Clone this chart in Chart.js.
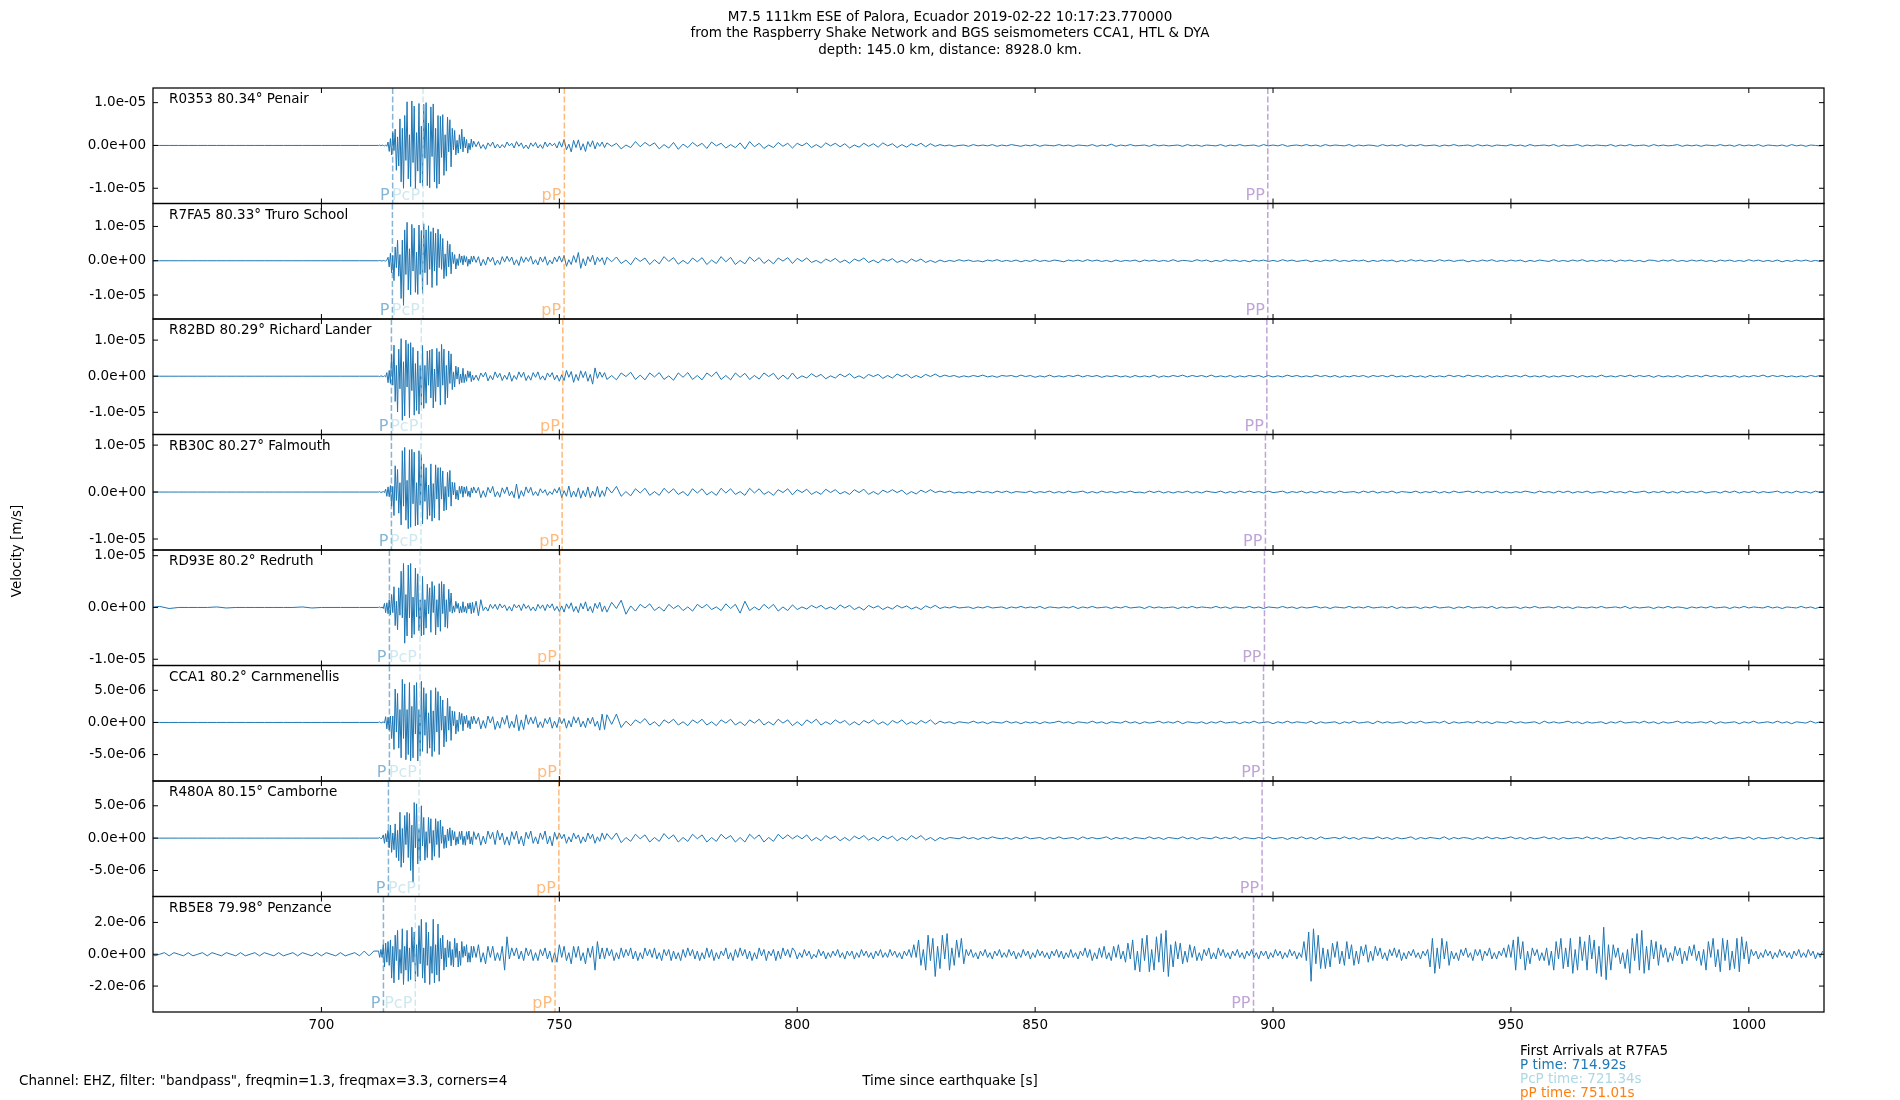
<!DOCTYPE html>
<html>
<head>
<meta charset="utf-8">
<script src="https://cdn.jsdelivr.net/npm/chart.js@4.4.1/dist/chart.umd.min.js"></script>
<style>
  html, body { margin: 0; padding: 0; background: #fff; }
  canvas { display: block; }
</style>
</head>
<body>
<canvas id="seis" width="1900" height="1100"></canvas>
<script>
// station labels, top to bottom
var stations = ['R0353 80.34° Penair', 'R7FA5 80.33° Truro School', 'R82BD 80.29° Richard Lander',
  'RB30C 80.27° Falmouth', 'RD93E 80.2° Redruth', 'CCA1 80.2° Carnmenellis',
  'R480A 80.15° Camborne', 'RB5E8 79.98° Penzance'];

// sample grids: [start time s, step s, count]
var gridMain = [[664, 2, 24], [712, 0.25, 80], [732, 0.5, 56], [760, 1, 257]];
var gridPenzance = [[664, 1, 48], [712, 0.25, 80], [732, 0.5, 568]];

// velocity traces in units of 1e-7 m/s
var R0353 = [0,0,0,0,0,0,0,0,0,0,0,0,0,0,0,0,0,0,0,0,0,0,0,0,
  0,1,-1,1,0,-1,1,-2,8,-14,16,-22,30,-12,38,-58,20,-48,62,-85,40,-100,70,-35,102,-78,25,
  -96,104,-40,92,-101,30,-60,98,-88,45,-95,96,-30,100,-94,52,-99,90,-26,97,-85,40,-100,70,-90,
  68,-28,72,-70,25,-60,66,-15,60,-50,40,-10,35,-22,12,-18,25,-8,38,-15,20,-6,14,-18,5,-10,15,-4,
  10,-3,9,-7,2,-9,6,-2,8,-6,3,-6,2,-5,8,-1,5,-6,9,-2,6,-7,1,-8,6,-2,7,-6,2,-7,8,-3,6,-1,5,-6,
  9,-4,14,-10,3,-15,12,-5,13,-11,4,-14,9,-3,11,-8,7,-2,8,-5,
  6,-2,5,-8,1,-5,9,-3,7,-1, 6,-8,2,-6,7,-9,3,-5,7,-2, 5,-7,8,-1,5,-6,2,-5,6,-8, 9,-3,5,-7,1,-5,7,-2,5,-6,
  5,-1,6,-5,2,-5,6,-1,5,-3, 4,-6,1,-4,5,-2,4,-4,6,-1, 4,-5,2,-4,4,-1,5,-3,4,-2,
  2,-1,1,-2,0,1,-2,2,-1,1, -1,2,-2,1,-1,2,0,-2,1,-1, 2,-2,1,0,-1,2,-1,1,-2,1, 0,-1,2,-2,1,-1,3,-2,1,-1,
  2,-1,0,1,-2,2,-1,1,-1,0, 1,-2,2,-1,1,-2,1,0,-1,2, -2,1,-1,2,-1,0,1,-2,2,-1, 1,-1,2,-2,0,1,-1,2,-1,1,
  -2,2,-1,1,0,-1,2,-2,1,-1, 1,0,-2,2,-1,1,-1,2,-2,1, -1,2,-1,0,1,-2,1,-1,2,-1, 0,1,-2,2,-1,1,-2,1,0,-1,
  2,-1,1,-2,2,-1,0,1,-1,2, -2,1,-1,0,2,-2,1,-1,1,0, -1,2,-2,1,-1,2,-1,0,1,-2, 2,-1,1,-1,0,2,-2,1,-1,1,
  -2,1,0,-1,2,-1,1,-2,2,-1, 1,-1,2,-2,1,0,-1,1,-2,2, -1,1,-2,1,0,-1,1];
var R7FA5 = [0,0,0,0,0,0,0,0,0,0,0,0,0,0,0,0,0,0,0,0,0,0,0,0,
  0,1,0,-1,1,0,-1,2,10,-18,22,-35,15,-58,40,-20,60,-45,18,-110,60,-130,90,-40,112,-85,35,
  -99,106,-30,95,-92,25,-98,104,-40,88,-95,108,-35,90,-70,102,-25,85,-78,96,-30,80,-72,92,-20,
  77,-25,65,-52,20,-45,58,-18,48,-38,25,-8,18,-24,6,-14,20,-5,14,-12,15,-4,12,-16,5,-10,13,-3,
  14,-5,12,-15,4,-13,11,-3,10,-13,2,-11,12,-4,13,-2,11,-12,3,-14,12,-5,10,-2,13,-10,3,-12,11,-4,12,-13,2,-9,11,-3,
  14,-4,15,-16,3,-11,15,-5,24,-22,6,-15,12,-3,16,-12,10,-2,9,-12,
  10,-3,11,-8,2,-12,9,-2,8,-11, 3,-9,12,-2,9,-10,1,-9,8,-3, 9,-11,2,-8,12,-3,10,-11,1,-9, 11,-2,9,-8,3,-9,8,-1,9,-8,
  7,-2,8,-5,1,-7,5,-2,7,-5, 2,-7,5,-1,8,-5,2,-6,5,-1, 6,-5,1,-6,5,-2,5,-5,1,-5,
  2,-3,1,-2,3,-1,2,-2,0,-3, 2,-1,3,-2,1,-2,2,-3,1,-2, 3,-2,1,-2,2,0,-3,2,-1,2, -2,3,-1,2,-2,1,-3,2,-2,1,
  -1,2,-3,2,-1,2,-2,1,-2,3, -2,1,0,-2,3,-1,2,-3,1,-2, 3,-1,2,-2,1,-3,2,-1,2,-2, 1,-2,3,-1,2,-2,0,2,-3,1,
  -2,2,-1,3,-2,1,-2,2,-1,2, -3,1,-2,2,-1,2,-3,1,-2,3, -1,2,-2,1,-2,3,-1,2,-2,1, 2,-3,1,-2,2,-1,3,-2,1,-2,
  2,-1,2,-3,1,-2,2,0,-2,3, -2,1,-2,2,-1,3,-2,1,-2,2, -1,2,-3,2,-1,2,-2,1,-3,2, 1,-2,2,-1,3,-2,1,-2,2,-1,
  2,-2,1,-3,2,-1,2,-2,1,-2, 3,-1,2,-2,1,-2,2,-3,1,-2, 2,-1,2,-2,1,-2,1];
var R82BD = [0,0,0,0,0,0,0,0,0,0,0,0,0,0,0,0,0,0,0,0,0,0,0,0,
  0,-1,1,0,-1,1,-2,10,-18,16,-20,60,-25,86,-70,30,-99,75,-35,104,-122,40,-110,100,-30,90,-115,
  93,-40,80,-108,35,-95,70,-105,30,-80,85,-89,30,-75,70,-25,72,-60,75,-88,20,-70,77,-30,68,
  -80,88,-25,75,-78,30,-60,70,-20,62,-37,12,-30,28,-8,25,-22,6,-18,22,-18,5,-14,15,-4,13,-15,3,
  -11,3,-12,9,-2,11,-13,2,-10,12,-4,8,-12,3,-9,11,-14,2,-9,12,-3,11,-12,2,-11,10,-3,12,-9,1,-11,9,-2,10,-10,3,
  -14,4,-12,16,-3,13,-17,5,-12,15,-4,13,-14,5,-22,23,-6,12,-3,10,
  -9,2,-10,9,-1,11,-9,3,-10,9, -2,10,-9,1,-11,9,-3,10,-9,2, -10,9,-1,12,-9,2,-10,9,-3,8, -9,2,-8,9,-1,8,-9,3,-8,9,
  -7,1,-5,7,-2,5,-7,1,-5,6, -2,7,-5,1,-6,5,-1,5,-6,2, -5,6,-1,5,-5,2,-4,5,-1,6,
  -2,3,-1,2,-3,1,-2,2,-1,3, -2,1,-3,2,0,2,-2,3,-1,2, -3,1,-2,3,-2,1,-2,2,-1,3, -2,2,-1,2,-3,1,-1,2,-2,1,
  -3,2,-2,1,-2,3,-3,1,-2,2, -1,3,-2,2,-1,2,-2,3,-2,1, -2,2,-3,1,-2,2,-1,2,-3,2, -2,1,-2,3,-1,2,-2,1,-2,3,
  -1,2,-2,2,-3,1,-2,2,-1,2, -3,2,-1,2,-2,3,-2,1,-2,2, -2,1,-3,2,-2,1,-2,3,-1,2, -2,3,-1,2,-2,2,-3,1,-2,2,
  -1,2,-2,3,-2,1,-2,2,-3,1, -2,2,-1,2,-3,2,-2,1,-2,3, -2,1,-2,2,-1,3,-2,2,-1,2, -3,2,-2,1,-2,2,-3,2,-1,2,
  -2,3,-1,2,-2,1,-2,2,-3,1, -2,2,-1,3,-2,2,-1,2,-2,1, -2,1,-2,2,-1,2,-1];
var RB30C = [0,0,0,0,0,0,0,0,0,0,0,0,0,0,0,0,0,0,0,0,0,0,0,0,
  0,1,-1,0,1,-1,6,-9,11,-10,14,-30,12,-50,56,-18,48,-45,20,-70,88,-30,95,-60,25,-78,90,
  -75,91,-25,85,-72,20,-70,88,-28,80,-68,60,-20,52,-58,15,-50,60,-62,18,-55,58,-15,52,-60,
  52,-15,45,-40,12,-38,42,-10,46,-30,21,-6,20,-15,4,-17,12,-3,13,-11,11,-3,12,-9,2,-11,9,-2,
  11,-2,10,-12,3,-11,10,-2,12,-10,1,-11,9,-3,11,-8,2,-12,17,-14,3,-9,11,-2,10,
  -7,1,-8,7,-2,5,-7,1,-5,7,-2,
  10,-12,3,-9,13,-11,2,-10,9,-13,3,-10,11,-12,2,-9,12,-11,3,-9,
  11,-2,12,-9,1,-8,7,-2,8,-7, 1,-7,8,-2,7,-5,1,-8,7,-2, 7,-6,1,-7,8,-2,7,-5,1,-7, 8,-2,7,-5,1,-7,5,-1,7,-6,
  5,-1,6,-5,1,-5,6,-1,5,-4, 1,-5,5,-1,6,-5,1,-5,4,-1, 5,-1,4,-5,1,-4,4,-1,5,-1,
  2,-1,2,-2,0,-2,1,-2,2,-1, 1,-2,2,-1,2,-2,1,0,-1,2, -2,1,-1,2,-2,1,-2,2,-1,0, 2,-2,1,-2,2,-1,1,-2,1,-1,
  2,-1,0,-2,2,-1,2,-2,1,-2, 1,-1,2,-2,1,-2,2,0,-1,2, -2,1,-2,2,-1,2,-1,1,-2,2, -1,0,2,-2,1,-1,2,-2,1,-2,
  2,-1,1,-2,2,-1,0,1,-2,2, -1,2,-2,1,-1,2,-2,1,0,-1, 2,-2,1,-1,2,-2,1,-2,2,-1, 0,2,-1,2,-2,1,-1,2,-2,1,
  -2,1,-1,2,0,-2,2,-1,1,-2, 2,-1,2,-2,1,-1,2,-2,0,1, -2,2,-1,1,-2,2,-1,0,2,-2, 1,-1,2,-2,1,-2,2,-1,1,-1,
  2,-2,0,1,-2,2,-1,2,-2,1, -1,2,-2,1,-1,0,2,-2,1,-2, 2,-1,1,-2,2,-1,1];
var RD93E = [0,2,-2,0,0,0,0,1,-1,0,0,0,0,0,0,0,1,-1,0,0,0,0,0,0,
  0,1,-1,1,-2,8,-10,9,-12,15,-14,25,-10,40,-35,12,-43,38,-15,70,-20,85,-69,25,-55,82,-20,
  85,-59,20,-52,76,-18,65,-45,15,-55,60,-53,15,-40,45,-12,38,-48,50,-10,42,-53,15,-38,46,
  -46,50,-12,45,-38,15,-40,35,-8,28,-11,3,-9,12,-2,8,-11,2,-10,11,-9,2,-11,8,-3,9,-12,10,
  -10,12,-16,15,-6,1,-7,6,-2,6,-4,7,-1,5,-6,2,-7,6,-1,5,-6,7,-2,4,-6,1,-7,6,-2,5,-6,6,-1,7,-6,2,
  -8,3,-9,7,-2,9,-8,2,-10,8,-3,11,-7,2,-10,8,-2,10,-8,3,
  -9,10,-2,14,-13,3,-7,6,-1,7, -6,1,-7,6,-2,4,-6,1,-7,6, -1,6,-4,1,-6,7,-2,6,-11,12, -6,1,-5,6,-2,6,-7,1,-6,5,
  -4,1,-3,4,-1,4,-3,1,-4,5, -1,4,-4,1,-5,4,-1,3,-4,1, -3,4,-1,3,-3,1,-4,3,-1,4,
  -2,1,-1,2,-1,0,1,-2,1,-1, 2,-1,0,1,-2,1,-1,2,-1,1, -1,2,-2,1,0,-1,1,-1,2,-2, 1,-1,2,-1,0,1,-2,1,-1,2,
  -1,0,1,-2,2,-1,1,-1,0,1, -2,1,-1,2,-1,1,0,-1,2,-1, 1,-2,1,0,-1,2,-1,1,-2,1, 0,-1,2,-1,1,-2,1,-1,0,2,
  -1,1,-2,1,0,-1,2,-1,1,-1, 2,-1,0,1,-1,2,-2,1,-1,0, 1,-2,1,-1,2,-1,0,1,-2,1, -1,2,-1,0,1,-1,2,-2,1,-1,
  0,1,-2,1,-1,2,-1,0,1,-1, 2,-1,1,-2,1,0,-1,1,-1,2, -1,0,1,-1,2,-2,1,-1,0,1, -2,1,-1,2,-1,1,0,-2,1,-1,
  1,-1,2,-1,0,1,-2,1,-1,2, -1,1,0,-1,2,-1,1,-2,1,0, -1,2,-1,1,-2,1,-1];
var CCA1 = [0,0,0,0,0,0,0,0,0,0,0,0,0,0,0,0,0,0,0,0,0,0,0,0,
  0,1,-1,0,1,-1,9,-10,8,-12,10,-25,10,-42,52,-15,45,-40,20,-55,67,-25,60,-58,20,-50,62,
  -60,25,-55,58,-18,62,-60,20,-52,64,-45,54,-20,45,-48,15,-40,50,-53,18,-45,54,-15,48,-50,
  41,-12,35,-38,10,-30,38,-12,25,-28,18,-5,17,-18,4,-14,16,-3,14,-13,10,-2,11,-8,3,-10,9,-2,
  10,-2,8,-10,3,-9,10,-1,9,-11,2,-9,8,-3,11,-9,2,-8,12,-13,4,-11,12,-3,
  8,-2,9,-8,1,-8,6,-2,8,-9,2,-8,8,-2,6,-9,3,-7,9,-1,8,-7,2,-8,7,-2,8,-6,2,-12,13,-11,
  12,-3,13,-8,2,-5,4,-1,6,-4, 1,-6,4,-1,5,-4,1,-5,4,-1, 5,-4,1,-5,4,-1,5,-4,1,-5, 4,-1,5,-4,1,-4,5,-1,4,-5,
  1,-5,4,-1,5,-4,1,-3,4,-1, 3,-4,1,-4,3,-1,4,-3,1,-4, 3,-1,4,-3,1,-3,3,-1,4,-3,
  2,-1,1,-2,1,0,-1,2,-1,1, -2,1,0,-1,2,-1,1,-2,1,-1, 1,-2,1,-1,0,2,-1,1,-2,1, 0,-1,2,-1,1,-2,1,0,-1,2,
  -1,1,-2,1,-1,0,2,-1,1,-1, 2,-2,1,0,-1,1,-2,1,-1,2, -1,0,1,-2,1,-1,2,-1,0,1, -2,1,-1,2,-1,1,0,-1,2,-2,
  1,-1,0,1,-2,1,-1,2,-1,0, 1,-2,2,-1,1,-1,0,1,-2,1, -1,2,-1,0,1,-1,2,-2,1,-1, 0,1,-1,2,-1,1,-2,1,0,-1,
  2,-1,1,-1,0,1,-2,2,-1,1, -1,0,2,-1,1,-2,1,-1,0,1, -2,1,-1,2,-1,0,1,-1,2,-1, 1,-2,1,-1,0,2,-1,1,-1,0,
  1,-1,2,-2,1,-1,0,1,-2,1, -1,2,-1,0,1,-1,2,-1,1,-2, 1,0,-1,2,-1,1,-1];
var R480A = [0,0,0,0,0,0,0,0,0,0,0,0,0,0,0,0,0,0,0,0,0,0,0,0,
  0,1,-1,0,5,-8,7,-6,12,-15,20,-22,8,-18,22,-30,12,-35,40,-45,15,-38,35,-10,40,-30,38,
  -50,20,-68,55,-15,53,-40,15,-35,50,-12,32,-34,10,-30,32,-8,30,-34,12,-28,30,-10,26,-30,
  28,-8,18,-16,5,-15,14,-4,16,-12,12,-3,10,-11,2,-9,10,-2,11,-10,3,-11,10,-2,11,-9,2,-10,
  10,-2,8,-11,3,-9,11,-1,9,-10,12,-3,8,-10,2,-11,10,-2,11,-9,3,-12,9,-1,11,-8,2,-9,8,-2,11,-9,3,-12,9,-2,
  8,-1,6,-8,2,-6,8,-1,5,-8,2,-6,8,-1,6,-8,2,-5,8,-2,
  7,-2,8,-7,1,-5,6,-1,5,-6, 1,-5,7,-1,5,-6,1,-5,6,-1, 5,-6,1,-5,6,-1,4,-6,1,-6, 6,-1,5,-6,1,-5,6,-1,5,-1,
  4,-1,5,-4,1,-4,4,-1,3,-4, 1,-4,3,-1,4,-3,1,-4,3,-1, 3,-4,1,-3,4,-1,4,-3,1,-4,
  1,-2,1,0,-1,2,-1,1,-2,1, -1,2,0,-1,1,-2,1,-1,2,-1, 0,1,-2,1,-1,2,-1,0,1,-2, 2,-1,1,-1,0,2,-2,1,-1,1,
  -2,1,0,-1,2,-1,1,-2,1,0, -1,2,-1,1,-2,1,0,-1,2,-1, 1,-1,2,-2,1,0,-1,1,-1,2, -1,0,1,-2,1,-1,2,-1,1,-2,
  2,-1,0,1,-1,2,-1,1,-2,1, 0,-1,2,-1,1,-2,1,-1,0,2, -2,1,-1,1,0,-1,2,-2,1,-1, 1,0,-2,1,-1,2,-1,1,-1,0,
  2,-1,1,-2,1,-1,0,2,-1,1, -2,1,-1,0,1,-1,2,-1,1,-2, 1,-1,0,2,-1,1,-2,1,-1,1, 0,-1,2,-1,1,-2,1,0,-1,2,
  -1,1,-2,1,-1,2,-1,0,1,-1, 2,-2,1,-1,0,1,-1,2,-1,1, -2,1,-1,1,0,-1,1];
var RB5E8 = [1,-1,0,1,-1,1,0,-1,1,-1, 0,1,-1,1,0,-1,1,0,-1,1, -1,0,1,-1,1,0,-1,1,-1,0, 1,-1,1,0,-1,1,-1,1,0,-1, 1,-1,0,1,-1,2,-1,2,
  2,-2,3,-2,6,-8,7,-5,8,-7,9,-15,5,-18,12,-4,15,-16,3,-12,16,-19,5,-10,15,-17,4,-16,17,-5,14,-17,6,
  -14,18,-6,22,-15,4,-18,20,-7,14,-19,5,-12,22,-18,6,-13,19,-17,
  10,-3,12,-10,4,-8,9,-2,8,-7,3,-8,10,-2,7,-8,2,-7,8,-2,5,-1,6,-5,1,-5,5,-2,
  5,-2,6,-5,1,-6,5,-2,5,-4,1,-4,5,-10,11,-3,4,-1,4,-3,2,-4,4,-1,3,-4,1,-4,3,-1,4,-3,2,
  -5,1,-5,6,-2,5,-4,1,-6,5,-2,5,-4,1,-6,4,-2,5,-10,8,-3,4,
  -3,4,-1,3,-4,1,-3,4,-2,3, -1,4,-3,2,-4,1,-3,4,-1,3, -2,4,-3,1,-4,3,-1,3,-4,2, -3,1,-4,3,-2,4,-1,3,-3,2,
  -4,1,-3,4,-2,3,-4,1,-3,2, -1,4,-3,1,-4,3,-2,4,-1,3, -3,2,-4,1,-3,4,-1,3,-4,2, -1,3,-4,2,-3,4,-1,3,-2,4,
  2,-3,1,-2,3,-1,2,-3,0,-2, 3,-1,2,-3,1,-2,2,-1,3,-2, 1,-3,2,-1,2,-3,1,-2,3,-1, 2,-2,1,-3,2,-1,3,-2,1,-2, 3,-1,2,-2,1,-3,2,-1,3,-2,
  6,-2,9,-7,3,-10,12,-4,10,-14,5,-9,12,-3,13,-10,4,-7,9,-2,10,-6,
  3,-1,3,-2,1,-3,2,-1,3,-2, 1,-3,2,-1,3,-2,1,-2,3,-1, 2,-3,1,-2,3,-1,2,-3,1,-2, 3,-1,2,-2,1,-3,2,-1,3,-2, 2,-3,1,-2,3,-2,1,-3,2,-1, 4,-2,3,-4,1,-3,4,-2,5,-3, 1,-4,5,-2,6,-3,2,-5,
  7,-3,9,-10,2,-11,10,-4,12,-11,3,-10,11,-5,13,-11,15,-14,6,-8,
  8,-3,7,-6,2,-5,6,-2,5,-4, 1,-4,3,-1,4,-3,1,-3,4,-1, 3,-2,1,-3,2,-1,3,-2,1,-3, 2,-1,3,-2,1,-3,2,-1,2,-3, 1,-2,3,-1,2,-3,1,-2,3,-1, 2,-3,1,-2,
  8,-4,14,-17,16,-6,12,-9,4,
  -9,3,-8,7,-2,8,-6,2,-7,8, -3,6,-7,2,-6,5,-1,6,-5,2, -4,5,-1,4,-3,1,-4,3,-1,4, -2,3,-4,1,-3,2,-1,3,-2,1, -3,2,-1,3,
  -8,10,-12,4,-9,10,-3,8,-7,2,
  -3,1,-4,3,-1,4,-2,1,-4,3, -1,3,-4,2,-1,4,-3,1,-3,2, -1,4,-2,
  6,-2,9,-10,11,-3,8,-10,2,-6,
  4,-1,3,-4,1,-4,4,
  -7,2,-10,8,-3,10,-9,4,-8,10,-12,3,-10,11,-4,8,-10,12,-3,9,-12,5,-14,17,-16,6,-10,
  6,-2,4,-6,1,
  -9,3,-12,10,-4,13,-10,15,-12,5,-10,9,-3,8,-7,
  6,-2,4,-5,1,-4,5,-1,4,-6,2,-4,5,-1,6,-4,2,
  -7,3,-10,8,-2,10,-8,3,-11,10,-4,9,-10,2,-9,10,-11,11,-3,8,-6,
  3,-1,2,-3,1,-2,3,-1,2,-3, 1,-2,3,-1,2,-2,1,-3,2,-1, 3,-2,1,-2,3,-1,2,-3,1,-2, 2];

var traces = [R0353, R7FA5, R82BD, RB30C, RD93E, CCA1, R480A, RB5E8];
var grids = [gridMain, gridMain, gridMain, gridMain, gridMain, gridMain, gridMain, gridPenzance];

// y limits (m/s) and y tick values per panel
var yLow = [-1.356e-5, -1.698e-5, -1.615e-5, -1.234e-5, -1.121e-5, -9.11e-6, -9.02e-6, -3.63e-6];
var yHigh = [1.342e-5, 1.669e-5, 1.585e-5, 1.226e-5, 1.11e-5, 8.86e-6, 8.83e-6, 3.63e-6];
var yTickVals = [[-1e-5, 0, 1e-5], [-1e-5, 0, 1e-5], [-1e-5, 0, 1e-5], [-1e-5, 0, 1e-5], [-1e-5, 0, 1e-5],
  [-5e-6, 0, 5e-6], [-5e-6, 0, 5e-6], [-2e-6, 0, 2e-6]];
var xTickVals = [700, 750, 800, 850, 900, 950, 1000];
var xLow = 664.6, xHigh = 1015.8;

// arrival times per station (s)
var phaseNames = ['P', 'PcP', 'pP', 'PP'];
var tP = [714.97, 714.92, 714.71, 714.71, 714.29, 714.29, 714.08, 713.03];
var tPcP = [721.36, 721.34, 720.99, 720.92, 720.71, 720.71, 720.50, 719.73];
var tpP = [751.06, 751.01, 750.73, 750.59, 750.10, 750.10, 749.90, 749.10];
var tPP = [898.9, 898.9, 898.7, 898.4, 898.2, 898.0, 897.7, 895.9];
var phaseTimes = [tP, tPcP, tpP, tPP];
var phaseColors = ['rgba(31,119,180,0.55)', 'rgba(173,216,230,0.6)', 'rgba(255,127,14,0.55)', 'rgba(148,103,189,0.6)'];

var FONT = '"DejaVu Sans", sans-serif';

function sampleTimes(grid, n) {
  var t = [];
  grid.forEach(function (g) {
    for (var i = 0; i < g[2]; i++) t.push(g[0] + i * g[1]);
  });
  var step = grid[grid.length - 1][1];
  while (t.length < n) t.push(t[t.length - 1] + step);
  return t;
}

function sci(v) {
  if (v === 0) return '0.0e+00';
  var s = v.toExponential(1).split('e');
  var e = s[1];
  return s[0] + 'e' + e[0] + e.slice(1).padStart(2, '0');
}

var datasets = traces.map(function (tr, k) {
  var t = sampleTimes(grids[k], tr.length);
  return {
    data: tr.map(function (v, i) { return { x: t[i], y: v * 1e-7 }; }),
    yAxisID: 'y' + k,
    borderColor: '#1f77b4',
    borderWidth: 1,
    pointRadius: 0,
    tension: 0,
    fill: false
  };
});

var scales = {
  x: {
    type: 'linear', position: 'bottom', min: xLow, max: xHigh,
    grid: { display: false, drawTicks: false }, border: { display: false },
    ticks: { color: '#000', font: { family: FONT, size: 13.5 }, padding: 5, maxRotation: 0, autoSkip: false,
      callback: function (v) { return String(v); } },
    afterBuildTicks: function (s) { s.ticks = xTickVals.map(function (v) { return { value: v }; }); },
    afterFit: function (s) { s.height = 30; }
  }
};
// later-defined stacked axes go on top, so build bottom panel first
for (var k = stations.length - 1; k >= 0; k--) {
  (function (k) {
    scales['y' + k] = {
      type: 'linear', position: 'left', stack: 'panels', stackWeight: 1,
      min: yLow[k], max: yHigh[k],
      grid: { display: false, drawTicks: false }, border: { display: false },
      ticks: { color: '#000', font: { family: FONT, size: 13.5 }, padding: 7, autoSkip: false, callback: function (v) { return sci(v); } },
      afterBuildTicks: function (s) { s.ticks = yTickVals[k].map(function (v) { return { value: v }; }); },
      afterFit: function (s) { s.width = 153; }
    };
  })(k);
}

var panelDeco = {
  id: 'panelDeco',
  afterDatasetsDraw: function (chart) {
    var ctx = chart.ctx, xs = chart.scales.x, ca = chart.chartArea;
    for (var k = 0; k < stations.length; k++) {
      var ys = chart.scales['y' + k];
      var top = ys.top, bot = ys.bottom;
      // arrival lines and names
      for (var p = 0; p < phaseNames.length; p++) {
        var x = xs.getPixelForValue(phaseTimes[p][k]);
        ctx.save();
        ctx.strokeStyle = phaseColors[p];
        ctx.lineWidth = 1.5;
        ctx.setLineDash([6, 2.6]);
        ctx.beginPath(); ctx.moveTo(x, top); ctx.lineTo(x, bot); ctx.stroke();
        ctx.setLineDash([]);
        ctx.fillStyle = phaseColors[p];
        ctx.font = '16px ' + FONT;
        ctx.textAlign = 'right';
        ctx.textBaseline = 'alphabetic';
        ctx.fillText(phaseNames[p], x - 3, bot - 4);
        ctx.restore();
      }
      ctx.save();
      ctx.strokeStyle = '#000';
      ctx.lineWidth = 1;
      ctx.beginPath();
      yTickVals[k].forEach(function (v) {
        var y = ys.getPixelForValue(v);
        ctx.moveTo(ca.left, y); ctx.lineTo(ca.left + 5, y);
        ctx.moveTo(ca.right - 5, y); ctx.lineTo(ca.right, y);
      });
      xTickVals.forEach(function (v) {
        var xx = xs.getPixelForValue(v);
        ctx.moveTo(xx, top); ctx.lineTo(xx, top + 5);
        ctx.moveTo(xx, bot - 5); ctx.lineTo(xx, bot);
      });
      ctx.stroke();
      ctx.lineWidth = 1.25;
      ctx.strokeRect(ca.left, top, ca.right - ca.left, bot - top);
      ctx.fillStyle = '#000';
      ctx.font = '13.5px ' + FONT;
      ctx.textAlign = 'left';
      ctx.textBaseline = 'middle';
      ctx.fillText(stations[k], ca.left + 16, top + 11.5);
      ctx.restore();
    }
  },
  afterDraw: function (chart) {
    var ctx = chart.ctx;
    ctx.save();
    ctx.fillStyle = '#000';
    ctx.font = '13.5px ' + FONT;
    ctx.textBaseline = 'middle';
    ctx.textAlign = 'center';
    ctx.fillText('M7.5 111km ESE of Palora, Ecuador 2019-02-22 10:17:23.770000', 950, 17);
    ctx.fillText('from the Raspberry Shake Network and BGS seismometers CCA1, HTL & DYA', 950, 33.5);
    ctx.fillText('depth: 145.0 km, distance: 8928.0 km.', 950, 50);
    ctx.fillText('Time since earthquake [s]', 950, 1081);
    ctx.textAlign = 'left';
    ctx.fillText('Channel: EHZ, filter: "bandpass", freqmin=1.3, freqmax=3.3, corners=4', 19, 1081);
    ctx.fillText('First Arrivals at R7FA5', 1520, 1051);
    ctx.fillStyle = '#1f77b4';
    ctx.fillText('P time: 714.92s', 1520, 1065);
    ctx.fillStyle = '#add8e6';
    ctx.fillText('PcP time: 721.34s', 1520, 1079);
    ctx.fillStyle = '#ff7f0e';
    ctx.fillText('pP time: 751.01s', 1520, 1093);
    ctx.fillStyle = '#000';
    ctx.translate(17, 551);
    ctx.rotate(-Math.PI / 2);
    ctx.textAlign = 'center';
    ctx.fillText('Velocity [m/s]', 0, 0);
    ctx.restore();
  }
};

new Chart(document.getElementById('seis'), {
  type: 'line',
  data: { datasets: datasets },
  options: {
    responsive: false,
    devicePixelRatio: 1,
    animation: false,
    parsing: false,
    normalized: true,
    layout: { padding: { left: 0, right: 76, top: 88, bottom: 58 } },
    plugins: { legend: { display: false }, tooltip: { enabled: false }, title: { display: false } },
    scales: scales
  },
  plugins: [panelDeco]
});
</script>
</body>
</html>
